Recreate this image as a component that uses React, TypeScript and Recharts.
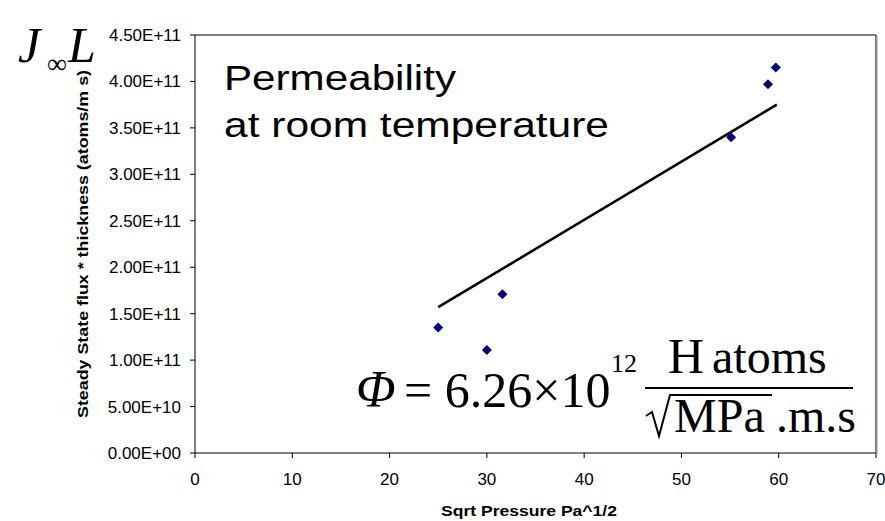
import React from 'react';
import { ScatterChart, Scatter, XAxis, YAxis, ReferenceLine } from 'recharts';

// measured points (sqrt pressure vs flux * thickness)
const SQRT_P = [25, 30, 31.6, 55.1, 58.9, 59.7];
const FLUX_L = [1.35e11, 1.11e11, 1.71e11, 3.4e11, 3.97e11, 4.15e11];

// trend line ends (through origin fit)
const FIT_X = [25, 59.8];
const FIT_Y = [1.57e11, 3.75e11];

const X_TICKS = [0, 10, 20, 30, 40, 50, 60, 70];
const Y_TICKS = [0, 5e10, 1e11, 1.5e11, 2e11, 2.5e11, 3e11, 3.5e11, 4e11, 4.5e11];

const points = SQRT_P.map((x, i) => ({ x, y: FLUX_L[i] }));
const fit = FIT_X.map((x, i) => ({ x, y: FIT_Y[i] }));

const SANS = '"Liberation Sans", Arial, sans-serif';
const SERIF = '"Liberation Serif", "Times New Roman", serif';

// Excel style 0.00E+00
const sci = (v: number) => {
  const [m, e] = v.toExponential(2).toUpperCase().split('E');
  return `${m}E${e[0]}${e.slice(1).padStart(2, '0')}`;
};

const Diamond = (p: any) => {
  const { cx, cy } = p;
  const r = 5;
  return <path d={`M${cx},${cy - r}L${cx + r},${cy}L${cx},${cy + r}L${cx - r},${cy}Z`} fill="#000080" />;
};

const NoDot = () => <g />;

const stretch = { lengthAdjust: 'spacingAndGlyphs' } as any;

const App: React.FC = () => {
  return (
    <div style={{ position: 'absolute', left: 0, top: 0, width: 885, height: 521, background: '#fff' }}>
      <ScatterChart width={885} height={521} margin={{ top: 35, right: 9, left: 0, bottom: 0 }}>
        <XAxis
          type="number"
          dataKey="x"
          domain={[0, 70]}
          ticks={X_TICKS}
          height={68}
          tickSize={5}
          tickMargin={15}
          axisLine={{ stroke: '#000' }}
          tickLine={{ stroke: '#000' }}
          tick={{ fill: '#000', fontSize: 17, fontFamily: SANS }}
        />
        <YAxis
          type="number"
          dataKey="y"
          domain={[0, 4.5e11]}
          ticks={Y_TICKS}
          width={195}
          tickSize={5}
          tickMargin={9}
          tickFormatter={sci}
          axisLine={{ stroke: '#000' }}
          tickLine={{ stroke: '#000' }}
          tick={{ fill: '#000', fontSize: 17, fontFamily: SANS }}
        />
        <ReferenceLine y={4.5e11} stroke="#000" />
        <ReferenceLine x={70} stroke="#000" />
        <Scatter data={fit} line={{ stroke: '#000', strokeWidth: 2.5 }} shape={NoDot} isAnimationActive={false} />
        <Scatter data={points} shape={Diamond} isAnimationActive={false} />
      </ScatterChart>

      {/* annotations */}
      <svg width={885} height={521} style={{ position: 'absolute', left: 0, top: 0, pointerEvents: 'none' }}>
        <line x1={877} x2={877} y1={36} y2={454} stroke="#999" />
        <g fontFamily={SERIF} fill="#000">
          <text x={18} y={62} fontSize={50} fontStyle="italic">J</text>
          <text x={47} y={73} fontSize={28}>∞</text>
          <text x={68} y={62} fontSize={50} fontStyle="italic">L</text>
        </g>

        <text transform="translate(88,244) rotate(-90)" textAnchor="middle" fontFamily={SANS} fontWeight="bold"
          fontSize={14} textLength={348} {...stretch}>
          Steady State flux * thickness (atoms/m s)
        </text>
        <text x={441} y={516} fontFamily={SANS} fontWeight="bold" fontSize={15} textLength={176} {...stretch}>
          Sqrt Pressure Pa^1/2
        </text>

        <g fontFamily={SANS} fontSize={35} fill="#000">
          <text x={224} y={90} textLength={232} {...stretch}>Permeability</text>
          <text x={224} y={137} textLength={385} {...stretch}>at room temperature</text>
        </g>

        <g fontFamily={SERIF} fill="#000">
          <text x={356} y={407} fontSize={52} fontStyle="italic">Φ</text>
          <text x={404} y={407} fontSize={50}>= 6.26×10</text>
          <text x={611} y={372} fontSize={26}>12</text>
          <text x={668} y={373} fontSize={50}>H</text>
          <text x={712} y={373} fontSize={48}>atoms</text>
          <line x1={645} x2={853} y1={388} y2={388} stroke="#000" strokeWidth={2} />
          <path d="M646,416 L652,412 L659,436 L670,395 L772,395" stroke="#000" strokeWidth={2} fill="none" />
          <text x={674} y={432} fontSize={48}>MPa</text>
          <text x={776} y={432} fontSize={48}>.m.s</text>
        </g>
      </svg>
    </div>
  );
};

export default App;
